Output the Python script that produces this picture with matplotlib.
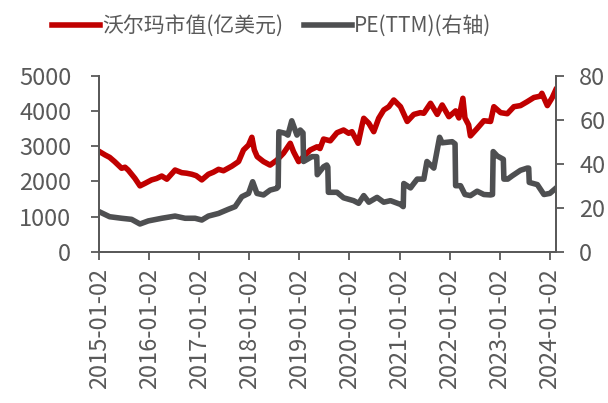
import matplotlib
matplotlib.use("Agg")
import matplotlib.pyplot as plt
import matplotlib.dates as mdates
import pandas as pd

plt.rcParams['font.family'] = ['Noto Sans CJK SC', 'DejaVu Sans']

# Walmart market cap (100M USD)
cap_dates = [
    "2015-01-02", "2015-02-14", "2015-03-20", "2015-04-25", "2015-06-15", "2015-07-10",
    "2015-08-02", "2015-09-20", "2015-10-27", "2015-12-02", "2016-01-20", "2016-02-25",
    "2016-04-03", "2016-05-10", "2016-07-09", "2016-08-27", "2016-10-01", "2016-11-08",
    "2016-12-10", "2017-01-20", "2017-03-09", "2017-04-15", "2017-05-22", "2017-06-27",
    "2017-08-27", "2017-10-15", "2017-11-20", "2017-12-27", "2018-01-20", "2018-02-07",
    "2018-02-28", "2018-04-15", "2018-06-02", "2018-07-21", "2018-09-08", "2018-10-27",
    "2018-11-20", "2018-12-27", "2019-02-01", "2019-03-22", "2019-05-10", "2019-06-01",
    "2019-06-27", "2019-08-15", "2019-10-03", "2019-11-20", "2019-12-27", "2020-01-20",
    "2020-03-05", "2020-04-03", "2020-04-15", "2020-05-22", "2020-06-27", "2020-08-02",
    "2020-09-08", "2020-10-15", "2020-11-20", "2021-01-08", "2021-02-26", "2021-04-15",
    "2021-06-02", "2021-06-27", "2021-08-15", "2021-10-03", "2021-11-08", "2021-12-27",
    "2022-02-14", "2022-03-10", "2022-04-08", "2022-04-23", "2022-05-20", "2022-06-02",
    "2022-07-21", "2022-09-08", "2022-10-27", "2022-11-20", "2023-01-08", "2023-02-26",
    "2023-04-15", "2023-06-02", "2023-07-21", "2023-09-08", "2023-10-27", "2023-11-05",
    "2023-12-15", "2024-01-20", "2024-02-14",
]
cap_values = [
    2850, 2750, 2680, 2560, 2370, 2400,
    2320, 2085, 1870, 1940, 2040, 2080,
    2150, 2060, 2320, 2245, 2230, 2200,
    2160, 2040, 2200, 2260, 2340, 2300,
    2430, 2560, 2890, 3030, 3250, 2890,
    2700, 2560, 2460, 2600, 2800, 3080,
    2840, 2560, 2700, 2890, 2980, 2930,
    3200, 3150, 3380, 3457, 3364, 3409,
    3080, 3600, 3790, 3648, 3409, 3790,
    4026, 4119, 4310, 4119, 3700, 3900,
    3950, 3932, 4216, 3900, 4168, 3835,
    4000, 3800, 4358, 3800, 3600, 3290,
    3500, 3720, 3700, 4119, 3950, 3920,
    4119, 4150, 4261, 4380, 4420, 4500,
    4150, 4380, 4594,
]

# PE (TTM), right axis
pe_dates = [
    "2015-01-02", "2015-03-20", "2015-06-15", "2015-08-27", "2015-10-27", "2015-12-27",
    "2016-04-03", "2016-07-09", "2016-09-20", "2016-12-02", "2017-01-20", "2017-03-09",
    "2017-05-22", "2017-08-02", "2017-09-20", "2017-11-08", "2017-12-27", "2018-01-26",
    "2018-02-26", "2018-04-15", "2018-06-02", "2018-07-21", "2018-07-31", "2018-08-05",
    "2018-09-20", "2018-10-10", "2018-11-07", "2018-12-15", "2019-01-08", "2019-01-28",
    "2019-02-01", "2019-04-03", "2019-05-08", "2019-05-12", "2019-06-27", "2019-07-20",
    "2019-07-28", "2019-08-01", "2019-10-03", "2019-11-20", "2020-02-01", "2020-03-09",
    "2020-04-15", "2020-05-22", "2020-07-21", "2020-09-08", "2020-10-27", "2021-01-08",
    "2021-01-28", "2021-02-01", "2021-03-22", "2021-04-15", "2021-05-10", "2021-06-27",
    "2021-07-20", "2021-09-08", "2021-10-20", "2021-11-08", "2022-01-20", "2022-02-10",
    "2022-02-14", "2022-03-22", "2022-04-23", "2022-06-02", "2022-07-21", "2022-09-08",
    "2022-10-27", "2022-11-10", "2022-11-15", "2022-12-15", "2023-01-28", "2023-02-01",
    "2023-03-01", "2023-04-03", "2023-06-02", "2023-07-21", "2023-08-01", "2023-08-05",
    "2023-10-03", "2023-11-20", "2024-01-02", "2024-02-14",
]
pe_values = [
    18.2, 15.9, 15.2, 14.7, 12.6, 14.0,
    15.2, 16.2, 15.2, 15.2, 14.4, 16.2,
    17.4, 19.3, 20.5, 25.0, 26.5, 31.8,
    26.5, 25.8, 28.0, 28.8, 29.5, 54.5,
    53.8, 53.0, 59.5, 53.0, 55.3, 54.0,
    41.0, 43.2, 43.2, 35.0, 38.6, 39.4,
    38.5, 27.0, 27.0, 24.5, 23.2, 22.0,
    25.5, 22.5, 24.7, 22.5, 23.2, 21.5,
    20.5, 31.0, 29.0, 31.0, 33.0, 33.0,
    41.0, 38.0, 52.0, 49.5, 50.0, 49.0,
    30.0, 30.0, 26.0, 25.5, 27.5, 26.0,
    25.8, 26.0, 45.5, 43.5, 42.0, 33.0,
    33.0, 34.5, 37.0, 38.0, 38.0, 31.5,
    30.5, 26.0, 26.5, 28.8,
]

x_ticks = ["2015-01-02", "2016-01-02", "2017-01-02", "2018-01-02", "2019-01-02",
           "2020-01-02", "2021-01-02", "2022-01-02", "2023-01-02", "2024-01-02"]

RED = "#C00000"
GRAY = "#4E4F51"
AXC = "#595959"

fig = plt.figure(figsize=(6.08, 4.03), dpi=100)
ax = fig.add_axes([0.163, 0.3754, 0.751, 0.4368])
ax2 = ax.twinx()

l1, = ax.plot(pd.to_datetime(cap_dates), cap_values, color=RED, lw=4,
              solid_joinstyle="round", label="沃尔玛市值(亿美元)")
l2, = ax2.plot(pd.to_datetime(pe_dates), pe_values, color=GRAY, lw=4,
               solid_joinstyle="round", label="PE(TTM)(右轴)")

ax.set_xlim(pd.Timestamp("2015-01-02"), pd.Timestamp("2024-02-14"))
ax.set_ylim(0, 5000)
ax2.set_ylim(0, 80)
ax.set_yticks([0, 1000, 2000, 3000, 4000, 5000])
ax2.set_yticks([0, 20, 40, 60, 80])
ax.set_xticks(pd.to_datetime(x_ticks))
ax.xaxis.set_major_formatter(mdates.DateFormatter("%Y-%m-%d"))

for a in (ax, ax2):
    a.spines["top"].set_visible(False)
    for s in ("left", "right", "bottom"):
        a.spines[s].set_color(AXC)
        a.spines[s].set_linewidth(1.3)
    a.tick_params(colors=AXC, width=1.3, length=6, labelsize=17)

ax.tick_params(axis="x", rotation=90, pad=6)
ax.tick_params(axis="y", pad=14)
ax2.tick_params(axis="y", pad=11)

fig.legend(handles=[l1, l2], loc="center", bbox_to_anchor=(0.447, 0.936), ncol=2,
           frameon=False, fontsize=15, handlelength=2.3, handletextpad=0.1,
           columnspacing=1.0, labelcolor=AXC)

fig.savefig("out.png", dpi=100)
